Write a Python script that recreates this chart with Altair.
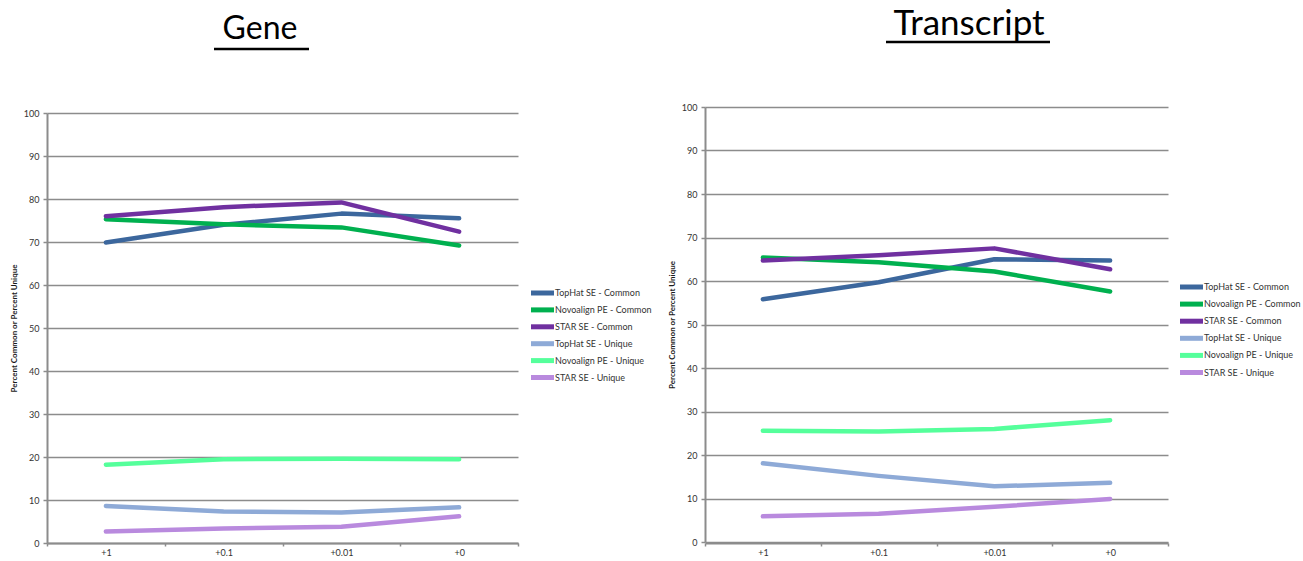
import altair as alt
import pandas as pd

# Score thresholds on the x axis
thresholds = ["+1", "+0.1", "+0.01", "+0"]

series_names = [
    "TopHat SE - Common",
    "Novoalign PE - Common",
    "STAR SE - Common",
    "TopHat SE - Unique",
    "Novoalign PE - Unique",
    "STAR SE - Unique",
]
series_colors = ["#3c679d", "#00b04f", "#7030a0", "#8eaad7", "#55ff9b", "#b98ade"]

# Gene-level percentages
gene_tophat_common = [69.9, 74.0, 76.6, 75.5]
gene_novoalign_common = [75.3, 74.1, 73.4, 69.2]
gene_star_common = [76.0, 78.1, 79.2, 72.4]
gene_tophat_unique = [8.6, 7.3, 7.1, 8.3]
gene_novoalign_unique = [18.2, 19.5, 19.6, 19.5]
gene_star_unique = [2.7, 3.4, 3.8, 6.2]

# Transcript-level percentages
tx_tophat_common = [55.8, 59.7, 65.0, 64.7]
tx_novoalign_common = [65.4, 64.3, 62.2, 57.6]
tx_star_common = [64.7, 65.9, 67.5, 62.7]
tx_tophat_unique = [18.1, 15.2, 12.8, 13.6]
tx_novoalign_unique = [25.6, 25.4, 26.0, 28.0]
tx_star_unique = [5.9, 6.5, 8.1, 9.9]

gene_series = [gene_tophat_common, gene_novoalign_common, gene_star_common,
               gene_tophat_unique, gene_novoalign_unique, gene_star_unique]
tx_series = [tx_tophat_common, tx_novoalign_common, tx_star_common,
             tx_tophat_unique, tx_novoalign_unique, tx_star_unique]

FONT = "Lato"
GRID = "#8c8c8c"
PANEL_H = 436

color_scale = alt.Scale(domain=series_names, range=series_colors)


def to_frame(series_values):
    rows = []
    for name, vals in zip(series_names, series_values):
        for t, v in zip(thresholds, vals):
            rows.append({"threshold": t, "series": name, "value": v})
    return pd.DataFrame(rows)


def key_layers(x0, y_range):
    """Series key drawn beside the plot: a short thick stroke plus its name."""
    key_df = pd.DataFrame({"series": series_names})
    key_y = alt.Y("series:N", sort=series_names,
                  scale=alt.Scale(type="point", domain=series_names, range=y_range,
                                  padding=0),
                  axis=None)
    swatch = alt.Chart(key_df).mark_rule(strokeWidth=5).encode(
        x=alt.value(x0), x2=alt.value(x0 + 23), y=key_y,
        color=alt.Color("series:N", scale=color_scale, legend=None),
    )
    names = alt.Chart(key_df).mark_text(
        font=FONT, fontSize=9, color="#333333", align="left", baseline="middle"
    ).encode(x=alt.value(x0 + 24), y=key_y, text="series:N")
    return swatch, names


def panel(series_values, title, title_size, width, y_range, title_pos, underline,
          key_x, key_range):
    df = to_frame(series_values)
    lines = alt.Chart(df).mark_line(
        strokeWidth=4.5, strokeCap="round", strokeJoin="round"
    ).encode(
        x=alt.X(
            "threshold:N",
            sort=thresholds,
            bandPosition=0.5,
            scale=alt.Scale(type="band", paddingInner=0, paddingOuter=0),
            axis=alt.Axis(
                title=None, labelAngle=0, tickBand="extent", grid=False,
                domainColor=GRID, domainWidth=2, tickColor=GRID, tickWidth=1.5,
                tickSize=3, labelFont=FONT, labelFontSize=9, labelColor="#333333",
                labelPadding=2,
            ),
        ),
        y=alt.Y(
            "value:Q",
            scale=alt.Scale(domain=[0, 100], range=y_range, nice=False),
            axis=alt.Axis(
                title="Percent Common or Percent Unique",
                values=list(range(0, 101, 10)),
                grid=True, gridColor=GRID, gridWidth=1.5,
                domainColor=GRID, domainWidth=2, tickColor=GRID, tickWidth=1.5,
                tickSize=4, labelFont=FONT, labelFontSize=9, labelColor="#333333",
                labelPadding=4, titleFont=FONT, titleFontSize=8,
                titleFontWeight="bold", titleColor="#1a1a1a", titlePadding=5,
            ),
        ),
        color=alt.Color("series:N", sort=series_names, scale=color_scale, legend=None),
    )
    swatch, names = key_layers(key_x, key_range)
    head = alt.Chart(pd.DataFrame({"label": [title]})).mark_text(
        font=FONT, fontSize=title_size, color="#000000", align="center", baseline="alphabetic"
    ).encode(text="label:N", x=alt.value(title_pos[0]), y=alt.value(title_pos[1]))
    rule = alt.Chart(pd.DataFrame({"label": [title]})).mark_rule(
        color="#000000", strokeWidth=2.5
    ).encode(x=alt.value(underline[0]), x2=alt.value(underline[1]), y=alt.value(underline[2]))
    return alt.layer(lines, swatch, names, head, rule).resolve_scale(
        y="independent"
    ).properties(width=width, height=PANEL_H)


gene = panel(gene_series, "Gene", 32, 471, [436, 6], (213, -68), (167, 262, -58),
             484, [186, 270.5])
transcript = panel(tx_series, "Transcript", 35, 463, [435, 0], (264, -72), (181, 345, -65),
                   475, [180, 265.5])

chart = alt.hconcat(gene, transcript, spacing=187, bounds="flush").resolve_scale(
    color="independent", x="independent", y="independent"
).configure_view(stroke=None).properties(
    padding={"left": 10, "top": 7, "right": 0, "bottom": 0}, background="#ffffff"
)

chart.save("out.html", embed_options={"renderer": "svg", "actions": False})
